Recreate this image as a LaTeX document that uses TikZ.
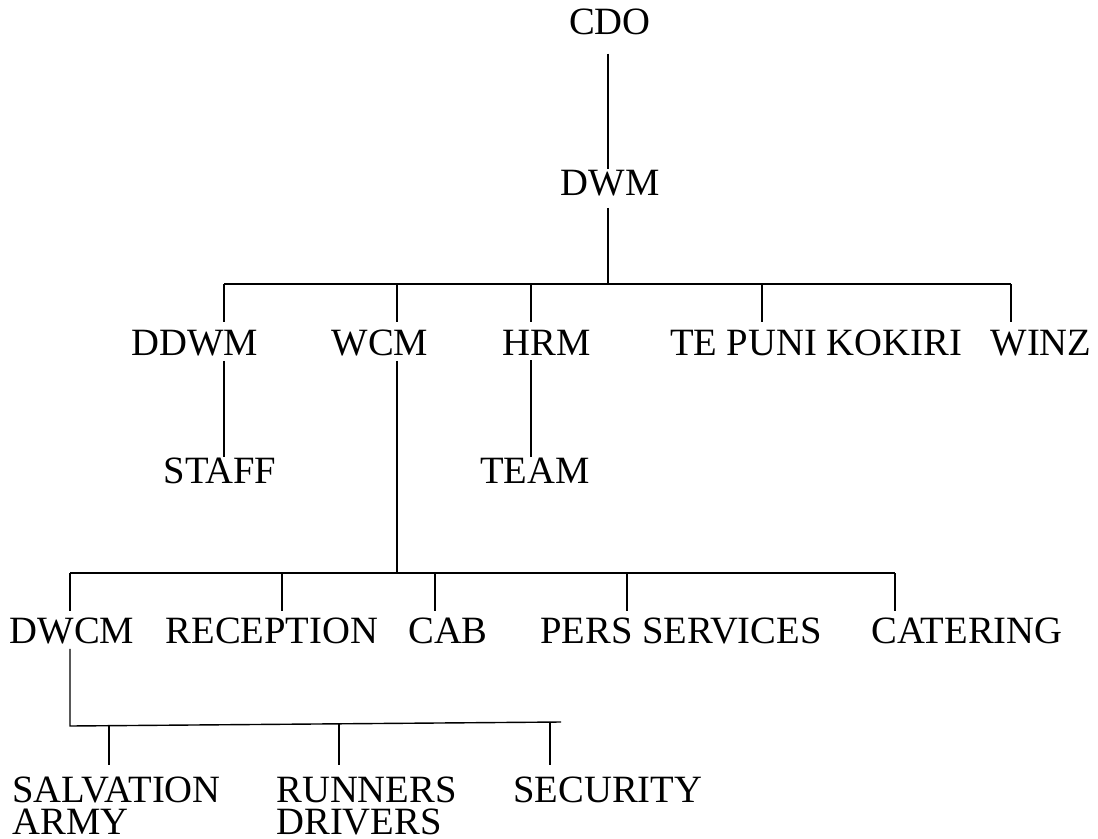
\documentclass[tikz,border=0pt]{standalone}
\usepackage{fontspec}
\setmainfont{Liberation Serif}
\tikzstyle{post}=[inner sep=0pt, anchor=base, font=\fontsize{22pt}{17.8pt}\selectfont]
\tikzstyle{orgline}=[draw=black, line width=0.8pt]

\begin{document}
\begin{tikzpicture}[x=0.02cm, y=-0.02cm]
	\useasboundingbox (0,0) rectangle (1098,838);
	% posts
	\node [style=post] (cdo) at (610,35) {CDO};
	\node [style=post] (dwm) at (610,195) {DWM};
	\node [style=post] (ddwm) at (195,355) {DDWM};
	\node [style=post] (wcm) at (380,355) {WCM};
	\node [style=post] (hrm) at (547,355) {HRM};
	\node [style=post] (tpk) at (816,355) {TE PUNI KOKIRI};
	\node [style=post] (winz) at (1041,355) {WINZ};
	\node [style=post] (staff) at (220,483) {STAFF};
	\node [style=post] (team) at (535,483) {TEAM};
	\node [style=post] (dwcm) at (72,643) {DWCM};
	\node [style=post] (rec) at (272,643) {RECEPTION};
	\node [style=post] (cab) at (448,643) {CAB};
	\node [style=post] (pers) at (681,643) {PERS SERVICES};
	\node [style=post] (cat) at (967,643) {CATERING};
	\node [style=post, anchor=north west, align=left] (salv) at (12,777) {SALVATION\\ARMY};
	\node [style=post, anchor=north west, align=left] (run) at (276,777) {RUNNERS\\DRIVERS};
	\node [style=post, anchor=north west] (sec) at (513,777) {SECURITY};
	% junctions
	\coordinate (top) at (608,284);
	\coordinate (jddwm) at (224,284);
	\coordinate (jwcm) at (397,284);
	\coordinate (jhrm) at (531,284);
	\coordinate (jtpk) at (762,284);
	\coordinate (jwinz) at (1011,284);
	\coordinate (jdwcm) at (70,573);
	\coordinate (jrec) at (282,573);
	\coordinate (jcab) at (435,573);
	\coordinate (jpers) at (627,573);
	\coordinate (jcat) at (895,573);
	\coordinate (low) at (70,726);
	\coordinate (lowend) at (561,722);
	\coordinate (jsalv) at (109,726);
	\coordinate (jrun) at (339,724);
	\coordinate (jsec) at (550,723);
	% lines
	\draw [style=orgline] (cdo.south -| top) ++(0,18) -- (dwm.north -| top);
	\draw [style=orgline] (dwm.south -| top) ++(0,12) -- (top);
	\draw [style=orgline] (jddwm) -- (jwinz);
	\foreach \n in {ddwm, wcm, hrm, tpk, winz}
		\draw [style=orgline] (j\n) -- ([yshift=0.14cm]\n.north -| j\n);
	\draw [style=orgline] ([yshift=-0.1cm]ddwm.south -| jddwm) -- (staff.north -| jddwm);
	\draw [style=orgline] ([yshift=-0.1cm]hrm.south -| jhrm) -- (team.north -| jhrm);
	\draw [style=orgline] ([yshift=-0.1cm]wcm.south -| jwcm) -- (jcab -| jwcm);
	\draw [style=orgline] (jdwcm) -- (jcat);
	\foreach \n in {dwcm, rec, cab, pers, cat}
		\draw [style=orgline] (j\n) -- ([yshift=0.12cm]\n.north -| j\n);
	\draw [style=orgline] ([yshift=-0.1cm]dwcm.south -| jdwcm) -- (low) -- (lowend);
	\foreach \n in {salv, run, sec}
		\draw [style=orgline] (j\n) -- ([yshift=0.24cm]\n.north -| j\n);
\end{tikzpicture}
\end{document}
